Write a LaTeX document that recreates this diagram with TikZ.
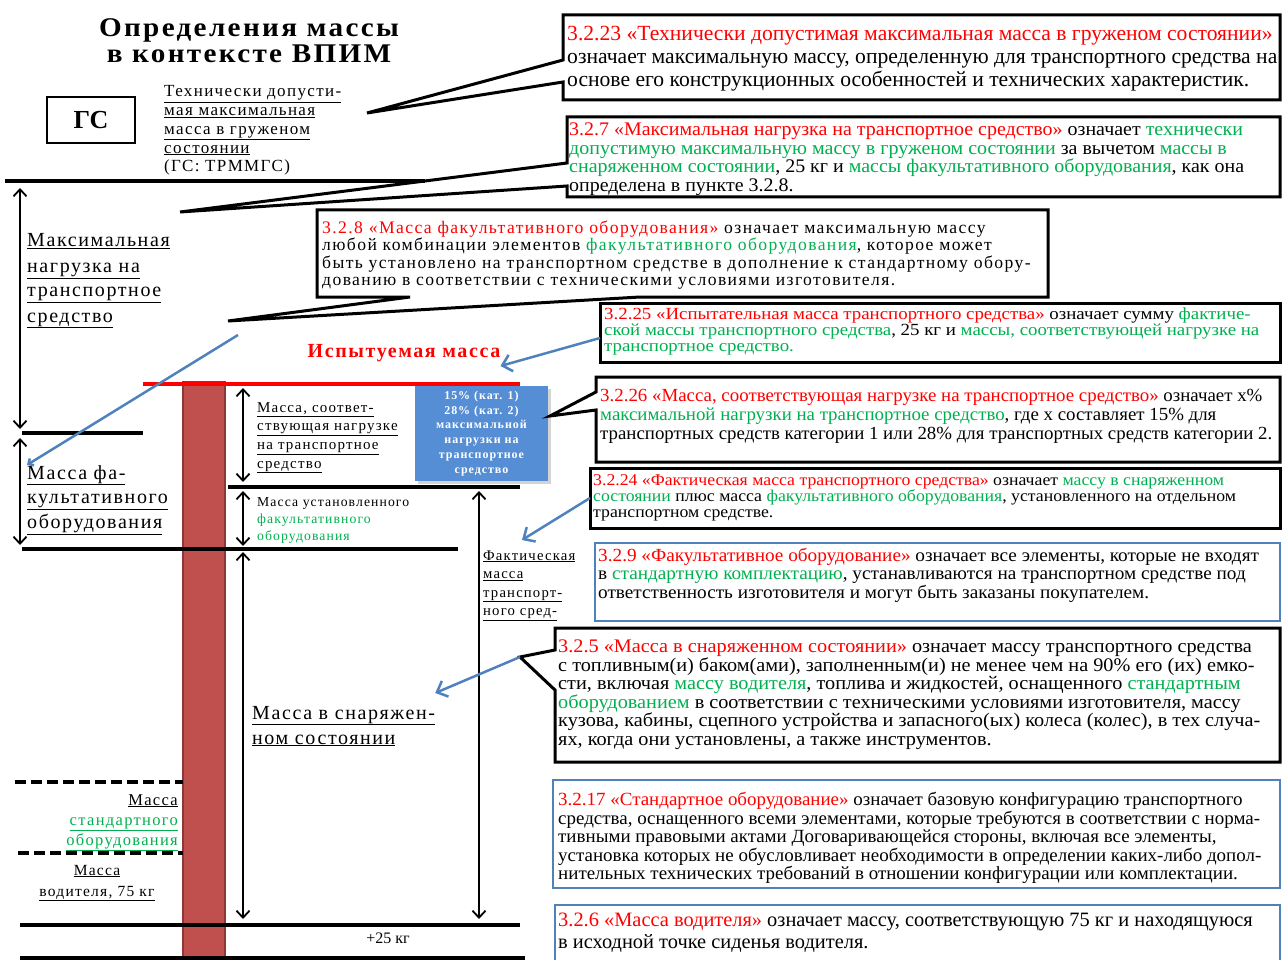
\documentclass[tikz,border=0pt]{standalone}
\usepackage{graphicx}
\usepackage{fontspec}
\setmainfont{Liberation Serif}
\newfontfamily\spaced[LetterSpace=8]{Liberation Serif}
\usetikzlibrary{arrows.meta, shadows}

\definecolor{DefRed}{RGB}{255,0,0}
\definecolor{DefGreen}{RGB}{0,176,80}
\definecolor{FrameBlue}{RGB}{79,129,189}
\definecolor{BarRed}{RGB}{192,80,77}
\definecolor{BarEdge}{RGB}{140,56,54}
\definecolor{BadgeBlue}{RGB}{85,142,213}

\newcommand{\rd}[1]{\textcolor{DefRed}{#1}}
\newcommand{\gr}[1]{\textcolor{DefGreen}{#1}}
\newcommand{\fs}[2]{\fontsize{#1}{#2}\selectfont}
\newcommand{\uln}[1]{\underline{#1}}
\newcommand{\hstretch}[2]{\scalebox{#1}[1]{#2}}
% line stacks, baseline = first line
\newcommand{\linesL}[1]{\vtop{\let\\\cr\halign{##\hfil\cr#1\crcr}}}
\newcommand{\linesC}[1]{\vtop{\let\\\cr\halign{\hfil##\hfil\cr#1\crcr}}}
\newcommand{\linesR}[1]{\vtop{\let\\\cr\halign{\hfil##\cr#1\crcr}}}

\begin{document}
\begin{tikzpicture}[x=1pt, y=-1pt,
    lvl/.style={line width=3.5pt},
    dashlvl/.style={line width=3.5pt, dash pattern=on 11pt off 5pt},
    dim/.style={line width=1.8pt, {Straight Barb[length=7pt,width=13pt]}-{Straight Barb[length=7pt,width=13pt]}},
    callout/.style={draw, line width=3pt, line join=miter},
    defbox/.style={draw=FrameBlue, line width=2.5pt},
    bluearr/.style={draw=FrameBlue, line width=2.5pt, -{Straight Barb[length=9pt,width=17pt]}},
    deftext/.style={anchor=base west, inner sep=0pt},
    lbl/.style={anchor=base west, inner sep=0pt},
  ]
\useasboundingbox (0,0) rectangle (1282,960);

% title and GS
\node[anchor=base, inner sep=0pt, font=\spaced\bfseries\fs{27}{26}] (title) at (249,37)
  {\hstretch{1.08}{\linesC{Определения массы\\в контексте ВПИМ}}};
\node[draw, line width=2pt, minimum width=88pt, minimum height=46pt, font=\bfseries\fs{26}{30}] (gs) at (91,120) {ГС};
\node[lbl, font=\spaced\fs{17}{18.7}] (gsname) at (164,97)
  {\linesL{\uln{Технически допусти-}\\ \uln{мая максимальная}\\ \uln{масса в груженом}\\ \uln{состоянии}\\ (ГС: ТРММГС)}};

% mass column
\draw[fill=BarRed, draw=BarEdge, line width=1.5pt] (183,382) rectangle (225,962);

% levels
\draw[lvl] (5,181) -- (425,181);
\draw[lvl] (22,433) -- (143,433);
\draw[lvl] (22,549) -- (458,549);
\draw[lvl] (228,487) -- (520,487);
\draw[lvl] (20,925) -- (520,925);
\draw[lvl] (20,958) -- (525,958);
\draw[dashlvl] (15,782) -- (183,782);
\draw[dashlvl] (18,853) -- (183,853);
\draw[DefRed, line width=3.5pt] (143,384) -- (520,384);

% ranges
\draw[dim] (20,188) -- (20,429);
\draw[dim] (20,438) -- (20,545);
\draw[dim] (243,388) -- (243,482);
\draw[dim] (243,491) -- (243,546);
\draw[dim] (243,552) -- (243,919);
\draw[dim] (479,491) -- (479,919);

% left labels
\node[lbl, font=\spaced\fs{20}{25}] (maxload) at (27,247)
  {\linesL{\uln{Максимальная}\\ \uln{нагрузка на}\\ \uln{транспортное}\\ \uln{средство}}};
\node[lbl, font=\spaced\fs{20}{24.5}] (optmass) at (27,479)
  {\linesL{\uln{Масса фа-}\\ \uln{культативного}\\ \uln{оборудования}}};
\node[lbl, font=\spaced\fs{15}{18.7}] (loadmass) at (257,412)
  {\linesL{\uln{Масса, соответ-}\\ \uln{ствующая нагрузке}\\ \uln{на транспортное}\\ \uln{средство}}};
\node[lbl, font=\spaced\fs{13.7}{17}] (instopt) at (257,506)
  {\linesL{Масса установленного\\ \gr{факультативного}\\ \gr{оборудования}}};
\node[lbl, font=\spaced\fs{14.7}{18.5}] (actmass) at (483,560)
  {\linesL{\uln{Фактическая}\\ \uln{масса}\\ \uln{транспорт-}\\ \uln{ного сред-}}};
\node[lbl, font=\spaced\fs{20}{25}] (kerbmass) at (252,719)
  {\linesL{\uln{Масса в снаряжен-}\\ \uln{ном состоянии}}};
\node[anchor=base east, inner sep=0pt, font=\spaced\fs{16.5}{20}] (stdmass) at (178,805)
  {\linesR{\uln{Масса}\\ \gr{\uln{стандартного}}\\ \gr{\uln{оборудования}}}};
\node[anchor=base, inner sep=0pt, font=\spaced\fs{15.5}{21}] (drvmass) at (97,875)
  {\linesC{\uln{Масса}\\ \uln{водителя, 75 кг}}};
\node[anchor=base, inner sep=0pt, font=\fs{16}{18}] (plus25) at (388,943) {+25 кг};
\node[anchor=base, inner sep=0pt, font=\spaced\bfseries\fs{20}{24}, text=DefRed] (testmass) at (404,357) {Испытуемая масса};
\node[fill=BadgeBlue, minimum width=133pt, minimum height=95pt, inner sep=0pt, text=white,
      font=\spaced\bfseries\fs{12}{14.8},
      drop shadow={shadow xshift=2.5pt, shadow yshift=-2.5pt, opacity=0.35}] (badge) at (481.5,433.5)
  {\linesC{15\% (кат. 1)\\ 28\% (кат. 2)\\ максимальной\\ нагрузки на\\ транспортное\\ средство}};

% definitions
\draw[callout] (563,60) -- (563,15) -- (1280,15) -- (1280,100) -- (563,100) -- (563,82) -- (367,113) -- cycle;
\node[deftext, font=\fs{21.6}{23}] (d3223) at (567,41)
  {\linesL{\rd{3.2.23 «Технически допустимая максимальная масса в груженом состоянии»}\\
  означает максимальную массу, определенную для транспортного средства на\\
  основе его конструкционных особенностей и технических характеристик.}};

\draw[callout] (567,163) -- (567,117) -- (1280,117) -- (1280,197) -- (567,197) -- (567,186) -- (180,212) -- cycle;
\node[deftext, font=\fs{19.2}{18.5}] (d327) at (569,136)
  {\hstretch{1.04}{\linesL{\rd{3.2.7 «Максимальная нагрузка на транспортное средство»} означает \gr{технически}\\
  \gr{допустимую максимальную массу в груженом состоянии} за вычетом \gr{массы в}\\
  \gr{снаряженном состоянии}, 25 кг и \gr{массы факультативного оборудования}, как она\\
  определена в пункте 3.2.8.}}};

\draw[callout] (317,297) -- (317,210) -- (1048,210) -- (1048,297) -- (640,297) -- (228,321) -- (410,297) -- cycle;
\node[deftext, font=\spaced\fs{17.6}{17.3}] (d328) at (322,233.5)
  {\linesL{\rd{3.2.8 «Масса факультативного оборудования»} означает максимальную массу\\
  любой комбинации элементов \gr{факультативного оборудования}, которое может\\
  быть установлено на транспортном средстве в дополнение к стандартному обору-\\
  дованию в соответствии с техническими условиями изготовителя.}};

\draw[callout] (600,303) rectangle (1280,362);
\node[deftext, font=\fs{17}{16}] (d3225) at (604,319.5)
  {\hstretch{1.11}{\linesL{\rd{3.2.25 «Испытательная масса транспортного средства»} означает сумму \gr{фактиче-}\\
  \gr{ской массы транспортного средства}, 25 кг и \gr{массы, соответствующей нагрузке на}\\
  \gr{транспортное средство.}}}};

\draw[callout] (596,392) -- (596,377) -- (1280,377) -- (1280,462) -- (596,462) -- (596,410) -- (550,416) -- cycle;
\node[deftext, font=\fs{18.5}{19}] (d3226) at (600,401)
  {\hstretch{1.02}{\linesL{\rd{3.2.26 «Масса, соответствующая нагрузке на транспортное средство»} означает x\%\\
  \gr{максимальной нагрузки на транспортное средство}, где x составляет 15\% для\\
  транспортных средств категории 1 или 28\% для транспортных средств категории 2.}}};

\draw[callout] (590,468) rectangle (1280,528);
\node[deftext, font=\fs{16.5}{16}] (d3224) at (593,485.5)
  {\hstretch{1.075}{\linesL{\rd{3.2.24 «Фактическая масса транспортного средства»} означает \gr{массу в снаряженном}\\
  \gr{состоянии} плюс масса \gr{факультативного оборудования}, установленного на отдельном\\
  транспортном средстве.}}};

\draw[defbox] (595,543) rectangle (1280,621);
\node[deftext, font=\fs{18.5}{18.7}] (d329) at (598,561)
  {\hstretch{1.04}{\linesL{\rd{3.2.9 «Факультативное оборудование»} означает все элементы, которые не входят\\
  в \gr{стандартную комплектацию}, устанавливаются на транспортном средстве под\\
  ответственность изготовителя и могут быть заказаны покупателем.}}};

\draw[callout] (555,650) -- (555,628) -- (1280,628) -- (1280,762) -- (555,762) -- (555,690) -- (520,657) -- cycle;
\node[deftext, font=\fs{19.2}{18.6}] (d325) at (558,652.5)
  {\hstretch{1.055}{\linesL{\rd{3.2.5 «Масса в снаряженном состоянии»} означает массу транспортного средства\\
  с топливным(и) баком(ами), заполненным(и) не менее чем на 90\% его (их) емко-\\
  сти, включая \gr{массу водителя}, топлива и жидкостей, оснащенного \gr{стандартным}\\
  \gr{оборудованием} в соответствии с техническими условиями изготовителя, массу\\
  кузова, кабины, сцепного устройства и запасного(ых) колеса (колес), в тех случа-\\
  ях, когда они установлены, а также инструментов.}}};

\draw[defbox] (553,780) rectangle (1280,888);
\node[deftext, font=\fs{18.6}{18.6}] (d3217) at (558,805.5)
  {\hstretch{1.02}{\linesL{\rd{3.2.17 «Стандартное оборудование»} означает базовую конфигурацию транспортного\\
  средства, оснащенного всеми элементами, которые требуются в соответствии с норма-\\
  тивными правовыми актами Договаривающейся стороны, включая все элементы,\\
  установка которых не обусловливает необходимости в определении каких-либо допол-\\
  нительных технических требований в отношении конфигурации или комплектации.}}};

\draw[defbox] (555,905) rectangle (1280,970);
\node[deftext, font=\fs{20.4}{22}] (d326) at (558,926)
  {\linesL{\rd{3.2.6 «Масса водителя»} означает массу, соответствующую 75 кг и находящуюся\\
  в исходной точке сиденья водителя.}};

% pointers
\coordinate (from3225) at (600,338);
\coordinate (from3224) at (590,498);
\coordinate (from325) at (520,657);
\coordinate (from328) at (238,335);
\draw[bluearr] (from3225) -- (testmass.east |- 0,366);
\draw[bluearr] (from3224) -- (522,540);
\draw[bluearr] (from325) -- (kerbmass.north east |- 0,693);
\draw[draw=FrameBlue, line width=2.5pt, -{Straight Barb[length=4pt,width=8pt]}] (from328) -- (optmass.north west);

\end{tikzpicture}
\end{document}
